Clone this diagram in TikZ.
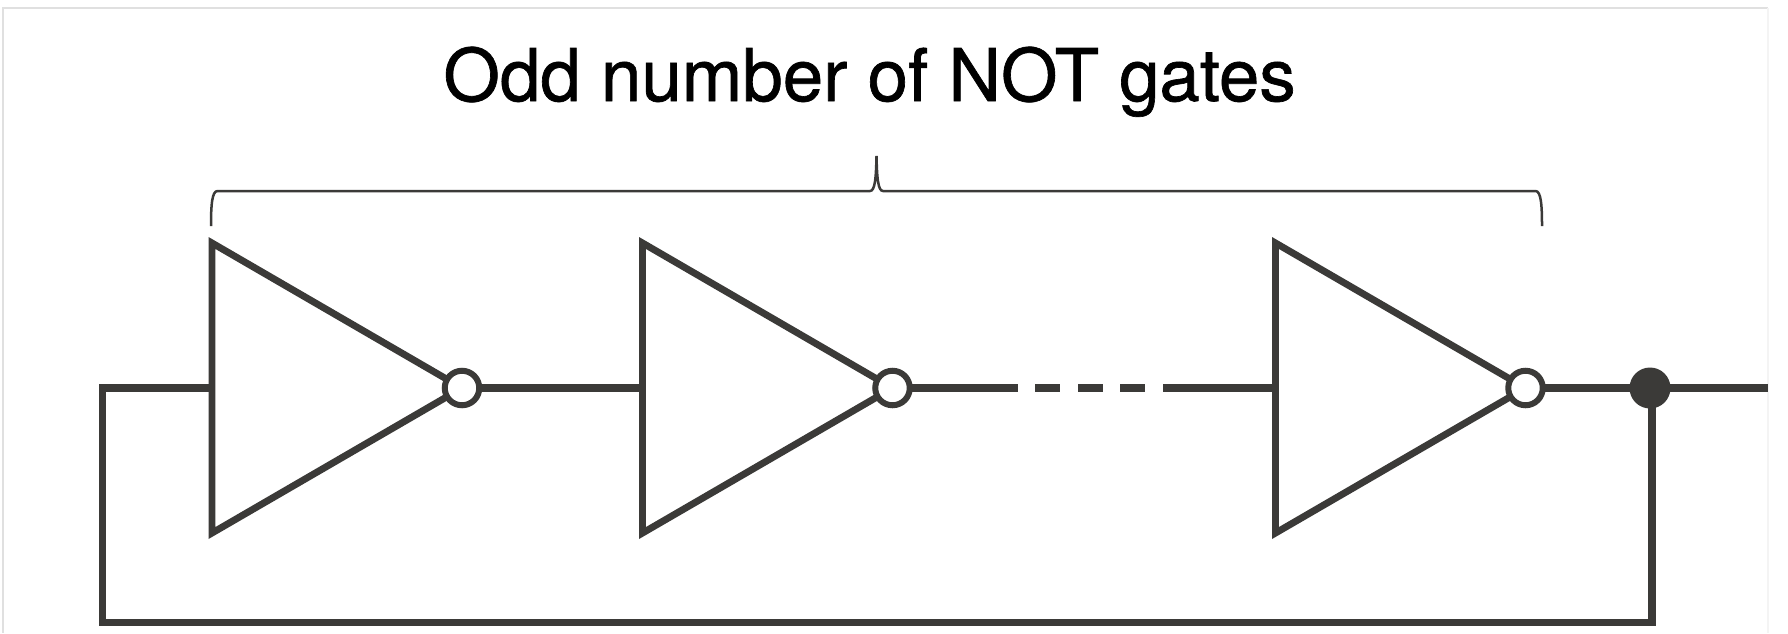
\documentclass[tikz,border=0pt]{standalone}
\usepackage{fontspec}
\setmainfont[FakeBold=0.9]{TeX Gyre Heros}
\definecolor{ink}{HTML}{3B3A38}
\definecolor{frame}{HTML}{E0E0E0}
\definecolor{framefaint}{HTML}{F4F4F4}
\tikzset{
  wire/.style={draw=ink,line width=7.3pt,line join=miter},
  gateshape/.style={draw=ink,line width=6.9pt,fill=white,line join=miter},
  bubble/.style={circle,draw=ink,line width=6pt,fill=white,minimum size=34.5pt,inner sep=0pt,outer sep=0pt},
  junction/.style={circle,fill=ink,draw=none,minimum size=41pt,inner sep=0pt,outer sep=0pt},
  bracket/.style={draw=ink,line width=2.5pt},
  title/.style={font=\fontsize{72.7pt}{80pt}\selectfont,text=black,anchor=base,inner sep=0pt}
}
\begin{document}
\begin{tikzpicture}[x=1pt,y=-1pt]
\useasboundingbox (0,0) rectangle (1788,633);
\draw[frame,line width=1.5pt] (3,633) -- (3,8) -- (1768,8);
\draw[framefaint,line width=1.5pt] (1768,8) -- (1768,633);

\node[title] (label) at (869.5,101) {Odd number of NOT gates};

% bracket
\coordinate (brL) at (211,226);
\coordinate (brM) at (876.5,156);
\coordinate (brR) at (1542,226);
\draw[bracket] (brL) .. controls (211,205) and (212,191) .. (217.5,191) -- (870,191)
  .. controls (875,191) and (876,178) .. (brM)
  .. controls (877,178) and (878,191) .. (883,191) -- (1535.5,191)
  .. controls (1541,191) and (1542,205) .. (brR);

% gates
\coordinate (in1) at (212,388);
\coordinate (in2) at (642.5,388);
\coordinate (in3) at (1275.5,388);
\draw[gateshape] (212,243) -- (212,533) -- (462,388) -- cycle;
\draw[gateshape] (642.5,243) -- (642.5,533) -- (892.5,388) -- cycle;
\draw[gateshape] (1275.5,243) -- (1275.5,533) -- (1525.5,388) -- cycle;
\node[bubble] (b1) at (462,388) {};
\node[bubble] (b2) at (892.5,388) {};
\node[bubble] (b3) at (1525.5,388) {};
\node[junction] (dot) at (1650,388) {};

% wires
\coordinate (d1) at (1018,388);
\coordinate (d2) at (1163,388);
\coordinate (out) at (1768,388);
\coordinate (cornerL) at (102.5,622.5);
\coordinate (cornerT) at (102.5,388);
\coordinate (cornerR) at (1652,622.5);
\draw[wire] (b1) -- (in2);
\draw[wire] (b2) -- (d1);
\draw[wire] (1035,388) -- (1060,388);
\draw[wire] (1078,388) -- (1103,388);
\draw[wire] (1120,388) -- (1145,388);
\draw[wire] (d2) -- (in3);
\draw[wire] (b3) -- (dot.center);
\draw[wire] (dot.center) -- (out);
\draw[wire] (1652,388) -- (cornerR) -- (cornerL) -- (cornerT) -- (in1);
\end{tikzpicture}
\end{document}
